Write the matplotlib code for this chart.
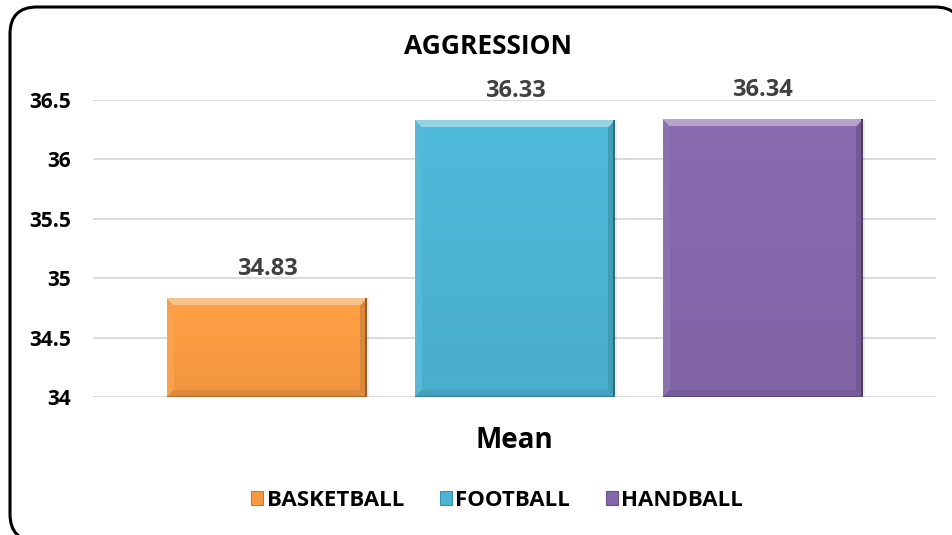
import numpy as np
import matplotlib.pyplot as plt
from matplotlib.patches import FancyBboxPatch, Patch
from matplotlib.colors import to_rgb

plt.rcParams['font.family'] = ['Open Sans', 'DejaVu Sans']
plt.rcParams['font.weight'] = 'bold'

sports = ["BASKETBALL", "FOOTBALL", "HANDBALL"]
means = [34.83, 36.33, 36.34]
colors = ["#F89A42", "#4CB3D2", "#8467AA"]
yticks = [34, 34.5, 35, 35.5, 36, 36.5]

W, H = 953, 535
fig = plt.figure(figsize=(W / 100, H / 100), dpi=100)
ax = fig.add_axes([93 / W, 1 - 397 / H, (936 - 93) / W, (397 - 100) / H])

# rounded chart border, runs off the right/bottom edge like the original
# (filled white so agg doesn't path-clip the curves)
border = FancyBboxPatch((10, -6), 962 - 10, 528 + 6,
                        boxstyle="round,pad=0,rounding_size=27",
                        transform=None, facecolor="white",
                        edgecolor="black", linewidth=2.2, zorder=-1)
fig.patches.append(border)

x = np.arange(len(sports))
bw = 200 / 248
ax.set_xlim(-0.702, 2.698)
ax.set_ylim(34, 36.5)


def bevel(wpx, hpx, base, b=7):
    base = np.array(to_rgb(base))
    yy, xx = np.mgrid[0:hpx, 0:wpx]
    t = yy / max(hpx - 1, 1)
    img = base[None, None, :] * (1.04 - 0.07 * t[..., None])
    img = np.clip(img, 0, 1)
    d = np.stack([yy, hpx - 1 - yy, xx, wpx - 1 - xx])
    edge = d.argmin(axis=0)
    dist = d.min(axis=0)
    white = np.ones(3)
    top = base * 0.6 + white * 0.4
    left = base * 0.93 + white * 0.07
    right = base * 0.88
    bottom = base * 0.9
    for k, c in enumerate([top, bottom, left, right]):
        m = (dist < b) & (edge == k)
        img[m] = c
    # thin dark outline on the right/bottom
    img[:, -2:] = base * 0.6
    img[-1:, :] = base * 0.7
    return np.clip(img, 0, 1)


bars = ax.bar(x, [m - 34 for m in means], bottom=34, width=bw,
              color=colors, zorder=2, edgecolor="none")
fig.canvas.draw()
for bar, c in zip(bars, colors):
    x0, y0 = bar.get_x(), bar.get_y()
    x1, y1 = x0 + bar.get_width(), y0 + bar.get_height()
    p0 = ax.transData.transform((x0, y0))
    p1 = ax.transData.transform((x1, y1))
    wpx, hpx = int(round(p1[0] - p0[0])), int(round(p1[1] - p0[1]))
    ax.imshow(bevel(wpx, hpx, c), extent=[x0, x1, y0, y1], aspect="auto",
              zorder=3, interpolation="bilinear")
    # soft shadow
    ax.bar(x0 + bar.get_width() / 2 + 0.008, bar.get_height(), bottom=34,
           width=bar.get_width(), color="#000000", alpha=0.07, zorder=1.5)

for xi, m in zip(x, means):
    ax.annotate(f"{m:.2f}", (xi, m), xytext=(0, 21), textcoords="offset points",
                ha="center", va="center", fontsize=17, fontweight="bold",
                color="#404040", annotation_clip=False)

ax.set_yticks(yticks)
ax.set_yticklabels(["34", "34.5", "35", "35.5", "36", "36.5"])
ax.set_xticks([])
ax.tick_params(axis="y", length=0, pad=16, labelsize=15)
ax.grid(axis="y", color="#D9D9D9", linewidth=1.3, zorder=0)
ax.set_axisbelow(True)
for s in ax.spines.values():
    s.set_visible(False)

fig.text(488 / W, 1 - 47 / H, "AGGRESSION", ha="center", va="center",
         fontsize=19, fontweight="bold")
fig.text(514 / W, 1 - 440 / H, "Mean", ha="center", va="center",
         fontsize=20, fontweight="bold")

handles = [Patch(facecolor=c, edgecolor=np.array(to_rgb(c)) * 0.8, linewidth=0.8)
           for c in colors]
fig.legend(handles, sports, loc="center", bbox_to_anchor=(497 / W, 1 - 500 / H),
           ncol=3, frameon=False, handlelength=0.55,
           handleheight=0.6, handletextpad=0.15, columnspacing=1.6,
           prop={"weight": "bold", "size": 16})

fig.savefig("out.png", dpi=100)
